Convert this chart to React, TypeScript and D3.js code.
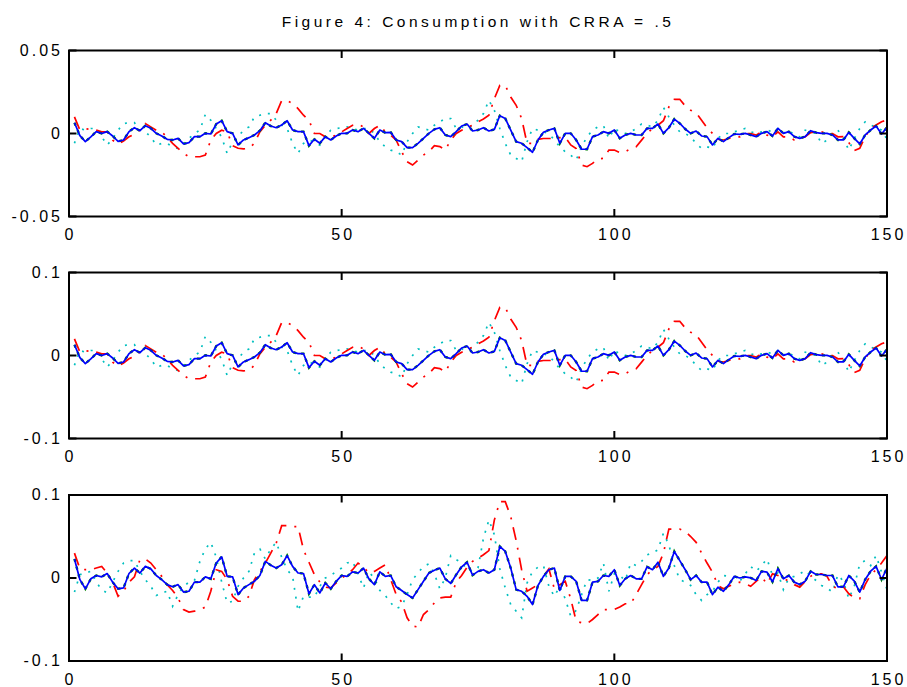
import React from "react";
import * as d3 from "d3";

// series for t = 1..150, values in thousandths (1e-3)
// panel 1
const blue1 = [
  6.5, -1.3, -4.9, -2, 1.1, 0, 1.1, -1.5, -4.7, -3.9,
  1.1, 3.5, 1.7, 4.7, 3.1, 0.1, -1.5, -3.5, -3.9, -2.9,
  -6.3, -5.5, -1.9, -1.9, 0.1, -0.3, 5.7, 7.7, 1.1, 0.1,
  -6.9, -3.9, -2.5, -0.9, 1.7, 6.5, 4.5, 3.5, 5.1, 7.7,
  2.1, 1.1, 1.1, -7.3, -3.5, -5.9, -1.9, -3.9, -1.5, 0.1,
  0.1, 2.1, 1.1, 3.1, 0.1, -2.9, 2.1, 0.5, 0.7, -3.9,
  -4.9, -8.5, -8.5, -5.9, -2.9, 0.1, 2.5, 3.5, -0.9, -1.9,
  1.1, 4.5, 5.7, 1.5, 2.1, 3.5, 1.5, 2.5, 10.7, 9.1,
  2.1, -4.9, -5.9, -8.5, -11.3, -3.9, 0.7, 2.1, 3.1, -5.9,
  0.1, 0.1, -3.9, -9.5, -9.5, -1.9, -0.9, 1.1, 0.1, 2.1,
  -2.9, -0.9, 0.1, -0.9, -0.9, 3.1, 3.1, 5.7, 0.1, 3.5,
  8.7, 6.1, 2.7, 0.1, 1.5, -1.5, -1.9, -6.9, -2.9, -4.9,
  -2.5, -0.3, -0.5, 0.1, -0.9, -1.9, 0.1, 1.1, -1.5, 3.1,
  0.1, 1.1, -1.9, -2.9, -1.9, 1.7, 0.5, 0.1, 0.1, -0.9,
  -3.9, -3.9, 0.7, -2.9, -6.3, -0.9, 2.1, 4.5, -0.3, 3.7,
];
const red1 = [
  10, 2, 2.5, 3, 2, 1, 1, -4, -6.3, -4.5,
  -2, -0.3, 2, 6, 4, 2, 1, -2.3, -5.9, -8.9,
  -12, -14, -14, -14, -13, -4, 0, 2, 1, -7.3,
  -8.9, -9.3, -8.9, -5.9, 1, 5, 8, 12, 19.8, 19.8,
  18, 15, 11, 8, 0, 0, -2, -2.3, -1, 1,
  3, 5, 5.7, 4, 0, 3, 5, 1, -1, -4,
  -11, -17, -19, -16, -13, -11, -7.3, -7.9, -9.9, -4,
  0, 2, 3.7, 5, 7, 8.7, 11, 21, 29, 29,
  22, 17, 9, -6, -6, -3.5, -3, -3, -3, -2.5,
  -2.3, -6.9, -9, -19, -20, -18, -15.4, -15, -10, -10,
  -11.5, -11, -9, -8, -4, 0, 3, 5, 7.7, 16,
  20.6, 20.6, 16.6, 14, 12.5, 8, 3.5, 0, -3.5, -3.9,
  -3, -2, -2, 0, 0, -1, 1, -1, -2, 1,
  -2, -2, -3.9, -3, -1.9, 0.5, 1, 1, 0, 0,
  -2, -1.9, -5.5, -10.3, -8.9, -2, 3, 5.1, 7.1, 8.1,
];
const cyan1 = [
  -5.9, 3, 2, 3, 3, -2, -7, -3, 2, 6,
  6.5, 6.5, 2, 1, -2, -7, -6, -6, -8, -9,
  -6, -3, 0, 2, 11.5, 8, 3, -2.3, -12, -5,
  -2, 2, 4, 10, 11, 12, 12, 8, 5, 3,
  -6, -12, -6, -4, -5, -7, -2, 2, 3, 3.5,
  4, 3, 2, 3, 3, 0, -5, -8, -10, -11,
  -13, -5, 0, 4, 3, 2, 5, 7, 9, 9,
  3, 4, 3, 5, 8, 12, 20, 14, 3, -6,
  -13, -15, -17, -5, 3, 2, 1, 0, -4, -8,
  -11, -13, -16, -8, -2, 2, 4, 4.7, -3, 3,
  1, 0, 1, 3, 5.7, 5, 4, 8, 15.7, 10,
  5, 1, 0, -2, -6, -9, -8, -9, -3, 0,
  0, 1, 2, 3, 1, 0, 1, 2, 1, 3,
  0, 2, -1, -2, 2, 1, 0, -6, -4, 0,
  2, -3, -10, -3, 3, 7, 5, 4, 2, -3.5,
];

// panel 2
const blue2 = [
  13, -2.6, -9.8, -4, 2.2, 0, 2.2, -3, -9.4, -7.8,
  2.2, 7, 3.4, 9.4, 6.2, 0.2, -3, -7, -7.8, -5.8,
  -12.6, -11, -3.8, -3.8, 0.2, -0.6, 11.4, 15.4, 2.2, 0.2,
  -13.8, -7.8, -5, -1.8, 3.4, 13, 9, 7, 10.2, 15.4,
  4.2, 2.2, 2.2, -14.6, -7, -11.8, -3.8, -7.8, -3, 0.2,
  0.2, 4.2, 2.2, 6.2, 0.2, -5.8, 4.2, 1, 1.4, -7.8,
  -9.8, -17, -17, -11.8, -5.8, 0.2, 5, 7, -1.8, -3.8,
  2.2, 9, 11.4, 3, 4.2, 7, 3, 5, 21.4, 18.2,
  4.2, -9.8, -11.8, -17, -22.6, -7.8, 1.4, 4.2, 6.2, -11.8,
  0.2, 0.2, -7.8, -19, -19, -3.8, -1.8, 2.2, 0.2, 4.2,
  -5.8, -1.8, 0.2, -1.8, -1.8, 6.2, 6.2, 11.4, 0.2, 7,
  17.4, 12.2, 5.4, 0.2, 3, -3, -3.8, -13.8, -5.8, -9.8,
  -5, -0.6, -1, 0.2, -1.8, -3.8, 0.2, 2.2, -3, 6.2,
  0.2, 2.2, -3.8, -5.8, -3.8, 3.4, 1, 0.2, 0.2, -1.8,
  -7.8, -7.8, 1.4, -5.8, -12.6, -1.8, 4.2, 9, -0.6, 7.4,
];
const red2 = [
  20, 4, 5, 6, 4, 2, 2, -8, -12.6, -9,
  -4, -0.6, 4, 12, 8, 4, 2, -4.6, -11.8, -17.8,
  -24, -28, -28, -28, -26, -8, 0, 4, 2, -14.6,
  -17.8, -18.6, -17.8, -11.8, 2, 10, 16, 24, 39.6, 39.6,
  36, 30, 22, 16, 0, 0, -4, -4.6, -2, 2,
  6, 10, 11.4, 8, 0, 6, 10, 2, -2, -8,
  -22, -34, -38, -32, -26, -22, -14.6, -15.8, -19.8, -8,
  0, 4, 7.4, 10, 14, 17.4, 22, 42, 58, 58,
  44, 34, 18, -12, -12, -7, -6, -6, -6, -5,
  -4.6, -13.8, -18, -38, -40, -36, -30.8, -30, -20, -20,
  -23, -22, -18, -16, -8, 0, 6, 10, 15.4, 32,
  41.2, 41.2, 33.2, 28, 25, 16, 7, 0, -7, -7.8,
  -6, -4, -4, 0, 0, -2, 2, -2, -4, 2,
  -4, -4, -7.8, -6, -3.8, 1, 2, 2, 0, 0,
  -4, -3.8, -11, -20.6, -17.8, -4, 6, 10.2, 14.2, 16.2,
];
const cyan2 = [
  -11.8, 6, 4, 6, 6, -4, -14, -6, 4, 12,
  13, 13, 4, 2, -4, -14, -12, -12, -16, -18,
  -12, -6, 0, 4, 23, 16, 6, -4.6, -24, -10,
  -4, 4, 8, 20, 22, 24, 24, 16, 10, 6,
  -12, -24, -12, -8, -10, -14, -4, 4, 6, 7,
  8, 6, 4, 6, 6, 0, -10, -16, -20, -22,
  -26, -10, 0, 8, 6, 4, 10, 14, 18, 18,
  6, 8, 6, 10, 16, 24, 40, 28, 6, -12,
  -26, -30, -34, -10, 6, 4, 2, 0, -8, -16,
  -22, -26, -32, -16, -4, 4, 8, 9.4, -6, 6,
  2, 0, 2, 6, 11.4, 10, 8, 16, 31.4, 20,
  10, 2, 0, -4, -12, -18, -16, -18, -6, 0,
  0, 2, 4, 6, 2, 0, 2, 4, 2, 6,
  0, 4, -2, -4, 4, 2, 0, -12, -8, 0,
  4, -6, -20, -6, 6, 14, 10, 8, 4, -7,
];

// panel 3
const blue3 = [
  23, -2, -13, -1, 3, 1.4, 5.4, -5, -13, -12,
  5.4, 12, 6, 14, 11, 3, -2, -8, -10.6, -8,
  -17, -16, -5, -5, 1.4, -1, 18, 25.5, 2, 1.4,
  -20, -12, -8, -4, 3, 20, 15.5, 12, 16, 27,
  14, 6, 5.4, -19, -8, -18, -6, -13, -4, 3,
  2, 7.4, 6, 12, -1, -8, 7.4, 2, 3, -10.6,
  -15, -20, -24, -14, -4, 6, 9.4, 12, -1, -6.6,
  4, 13.5, 19, 3.4, 8, 10, 6, 10, 38, 32,
  12, -14, -16, -22, -32, -9, 2, 10, 12, -15,
  2, 2, -4, -27, -27, -5, -4, 3, 2, 10,
  -9, -1, 3, -1, -1, 13.5, 10, 19, 2, 12,
  32, 21, 10, -2, 3, -5, -5, -20, -11, -16,
  -8, 2, 0, 1.4, 0.2, -3, 8, 7, -4.6, 11.4,
  -1, 3, -5, -7.8, -3.8, 8, 4.2, 4.2, 3, 3,
  -10.6, -10.6, 3, -3.8, -17, -1.8, 8.2, 14, -1.8, 12,
];
const red3 = [
  30, 11, 10, 10, 12, 14, 6, -5, -22, -16,
  -5, 1.4, 22, 23, 18, 10, 2, -8, -15, -24,
  -38, -41, -40, -38, -35, -16, 10, 8, -2, -22,
  -28, -28, -22, -2, 8, 18, 30, 42, 63, 63,
  62, 62, 34, 19, 4, -5, -11, -12, -6, 0,
  4, 10, 18, 13, 6, 8, 12, 16, -2, -20,
  -29, -48, -58, -59, -44, -38, -30, -24, -23, -23,
  -5, 3, 13, 20, 24, 28, 33, 70, 92, 92,
  74, 45, 10, -16, -12, -8, 2, 11, -13, -8,
  -4, -25, -52, -54, -55, -50, -44, -38, -38, -38,
  -35, -31, -31, -20, -8, 4, 10, 14, 30, 59,
  59, 59, 56, 50, 43, 30, 18, 7, -9, -13,
  -10, -7, -5, -7, -10, -4, 1.4, -7, 5, 3,
  0, -4, -8, -11, -4, 2, 5.4, 5, 2, -10,
  -13, -10.6, -19, -24, -25, -8, 4, 10, 18, 27,
];
const cyan3 = [
  -17, 4, 6, 8, -5, -14, -18, -5, 8, 18,
  21, 21, 8, -2, -10, -21, -18, -16, -34, -20,
  -10, -5, -3, 20, 35, 43, 25, -5, -30, -28,
  -10, 0, 8, 30, 35, 23, 35, 43, 25, 10,
  2, -40, -22, -23, -23, -10, 0, 3, 8, 12,
  18, 20, 5, -12, 7, 0, -15, -21, -30, -37,
  -34, -20, -2, 6, 14, 17, 5, -13, 0, 27,
  22, 19, 10, 8, 12, 48, 70, 52, 11, -12,
  -32, -40, -48, -6, 8, 13, 15, -10, -22, -10,
  -25, -46, -39, -20, -2, -3, 0, 18, -16, 5,
  3, -3, 18, 15, 20, 28, 30, 34, 54, 40,
  15, -2, -5, -9, -20, -27, -20, -16, -5, 3,
  2, 0, -4, 5, 14, 8, 15, 23, 3, 6,
  -14, 0, 2, 5, 9, 2, -3, -9, -12, -17,
  4, -4, -25, -10, 17, 21, 15, 27, 7, -14,
];

const xTicks = [0, 50, 100, 150];
const yTicksSmall = [-0.05, 0, 0.05];
const yLabelsSmall = ["-0.05", "0", "0.05"];
const yTicksBig = [-0.1, 0, 0.1];
const yLabelsBig = ["-0.1", "0", "0.1"];

const title = "Figure 4: Consumption with CRRA = .5";

const W = 907;
const H = 687;
const left = 69;
const right = 887;
const panelH = 166;
const tickLen = 7.5;
const font = "'Liberation Sans', Arial, sans-serif";

const panels = [
  { top: 50.5, max: 0.05, ticks: yTicksSmall, labels: yLabelsSmall, blue: blue1, red: red1, cyan: cyan1 },
  { top: 272.5, max: 0.1, ticks: yTicksBig, labels: yLabelsBig, blue: blue2, red: red2, cyan: cyan2 },
  { top: 495, max: 0.1, ticks: yTicksBig, labels: yLabelsBig, blue: blue3, red: red3, cyan: cyan3 },
];

const x = d3.scaleLinear().domain([0, 150]).range([left, right]);

function Panel({ p }: { p: (typeof panels)[number] }) {
  const y = d3.scaleLinear().domain([-p.max, p.max]).range([p.top + panelH, p.top]);
  const line = d3
    .line<number>()
    .x((_, i) => x(i + 1))
    .y((d) => y(d / 1000));
  const bottom = p.top + panelH;
  return (
    <g>
      {/* cyan dotted */}
      <path d={line(p.cyan) || ""} fill="none" stroke="#00bfbf" strokeWidth={1.7} strokeDasharray="2,7" />
      {/* red dash-dot */}
      <path d={line(p.red) || ""} fill="none" stroke="#ff0000" strokeWidth={1.7} strokeDasharray="13,8,2,8" />
      {/* green dashed, coincides with the blue line */}
      <path d={line(p.blue) || ""} fill="none" stroke="#008000" strokeWidth={2.4} strokeDasharray="3,5" />
      {/* blue solid */}
      <path d={line(p.blue) || ""} fill="none" stroke="#0000ff" strokeWidth={1.7} strokeLinejoin="round" />

      <rect x={left} y={p.top} width={right - left} height={panelH} fill="none" stroke="#000" strokeWidth={2} />
      {xTicks.map((t) => (
        <g key={"x" + t}>
          <line x1={x(t)} x2={x(t)} y1={bottom} y2={bottom - tickLen} stroke="#000" strokeWidth={2} />
          <line x1={x(t)} x2={x(t)} y1={p.top} y2={p.top + tickLen} stroke="#000" strokeWidth={2} />
          <text
            x={x(t) + 1.5}
            y={bottom + 23.5}
            textAnchor="middle"
            fontFamily={font}
            fontSize={16}
            letterSpacing={3}
            fill="#000"
          >
            {t}
          </text>
        </g>
      ))}
      {p.ticks.map((t, i) => (
        <g key={"y" + i}>
          <line x1={left} x2={left + tickLen} y1={y(t)} y2={y(t)} stroke="#000" strokeWidth={2} />
          <line x1={right} x2={right - tickLen} y1={y(t)} y2={y(t)} stroke="#000" strokeWidth={2} />
          <text
            x={63}
            y={y(t) + 5}
            textAnchor="end"
            fontFamily={font}
            fontSize={16}
            letterSpacing={3}
            fill="#000"
          >
            {p.labels[i]}
          </text>
        </g>
      ))}
    </g>
  );
}

export default function App() {
  return (
    <svg
      width={W}
      height={H}
      viewBox={`0 0 ${W} ${H}`}
      style={{ position: "absolute", left: 0, top: 0, background: "#fff" }}
    >
      <rect x={0} y={0} width={W} height={H} fill="#fff" />
      <text
        x={478}
        y={27}
        textAnchor="middle"
        fontFamily={font}
        fontSize={15.5}
        letterSpacing={3.5}
        fill="#000"
      >
        {title}
      </text>
      {panels.map((p, i) => (
        <Panel key={i} p={p} />
      ))}
    </svg>
  );
}
